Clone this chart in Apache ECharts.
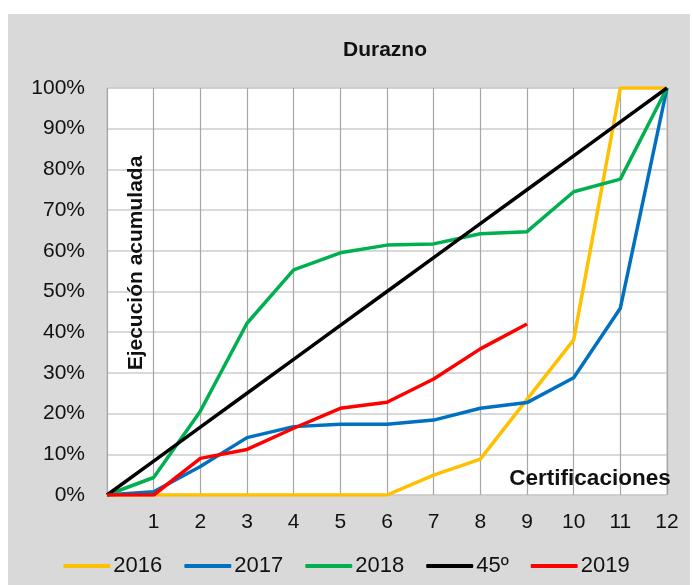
<!DOCTYPE html>
<html>
<head>
<meta charset="utf-8">
<script src="https://cdn.jsdelivr.net/npm/echarts@6/dist/echarts.min.js"></script>
<style>
  html, body { margin: 0; padding: 0; background: #ffffff; }
  #main { width: 693px; height: 585px; }
</style>
</head>
<body>
<div id="main"></div>
<script>
// certificaciones 0..12
var categories = ['0', '1', '2', '3', '4', '5', '6', '7', '8', '9', '10', '11', '12'];

// ejecucion acumulada (%)
var serie2016 = [0, 0, 0, 0, 0, 0, 0, 4.9, 8.8, 23.5, 38.1, 100, 100];
var serie2017 = [0, 0.8, 7, 14.1, 16.8, 17.4, 17.4, 18.4, 21.3, 22.7, 28.8, 45.9, 100];
var serie2018 = [0, 4.3, 20.6, 42.2, 55.3, 59.5, 61.4, 61.7, 64.2, 64.7, 74.5, 77.6, 100];
var serie45 = [0, 8.33, 16.67, 25, 33.33, 41.67, 50, 58.33, 66.67, 75, 83.33, 91.67, 100];
var serie2019 = [0, 0, 9, 11.2, 16.4, 21.3, 22.8, 28.5, 35.9, 42];

var names = ['2016', '2017', '2018', '45º', '2019'];
var colors = ['#FFC000', '#0070C0', '#00B050', '#000000', '#FF0000'];

var chart = echarts.init(document.getElementById('main'));

var fontFam = '"Liberation Sans", Arial, sans-serif';

function lineSeries(name, data, color) {
  return {
    name: name,
    type: 'line',
    data: data,
    symbol: 'none',
    smooth: false,
    lineStyle: { color: color, width: 3.5 },
    itemStyle: { color: color },
    emphasis: { disabled: true }
  };
}

var option = {
  backgroundColor: '#ffffff',
  animation: false,
  color: colors,
  grid: {
    left: 107, right: 26, top: 88, bottom: 90,
    show: true, backgroundColor: '#ffffff', borderColor: '#bfbfbf', borderWidth: 1
  },
  legend: {
    bottom: 3,
    left: 'center',
    itemWidth: 47,
    itemHeight: 4,
    itemGap: 22,
    icon: 'roundRect',
    textStyle: { fontSize: 22, color: '#111', fontFamily: fontFam, padding: [0, 0, 0, -2] },
    data: names
  },
  xAxis: {
    type: 'category',
    data: categories,
    boundaryGap: false,
    axisLine: { show: false },
    axisTick: { show: false },
    axisLabel: {
      fontSize: 21, color: '#111', fontFamily: fontFam, margin: 17,
      formatter: function (v) { return v === '0' ? '' : v; }
    },
    splitLine: { show: true, lineStyle: { color: '#a6a6a6', width: 1.2 } }
  },
  yAxis: {
    type: 'value',
    min: 0, max: 100, interval: 10,
    axisLine: { show: false },
    axisTick: { show: false },
    axisLabel: { fontSize: 21, color: '#111', fontFamily: fontFam, margin: 22, formatter: '{value}%' },
    splitLine: { show: true, lineStyle: { color: '#cccccc', width: 1.5 } }
  },
  graphic: [
    {
      type: 'rect', z: -10, silent: true,
      shape: { x: 8, y: 14, width: 682, height: 571 },
      style: { fill: '#d9d9d9' }
    },
    {
      type: 'text', z: 100, silent: true,
      x: 385, y: 50,
      style: { text: 'Durazno', font: 'bold 21px ' + fontFam, fill: '#111', textAlign: 'center', textVerticalAlign: 'middle' }
    },
    {
      type: 'text', z: 100, silent: true,
      x: 136, y: 263, rotation: Math.PI / 2,
      style: { text: 'Ejecución acumulada', font: 'bold 21px ' + fontFam, fill: '#111', textAlign: 'center', textVerticalAlign: 'middle' }
    },
    {
      type: 'text', z: 100, silent: true,
      x: 590, y: 479,
      style: { text: 'Certificaciones', font: 'bold 22.5px ' + fontFam, fill: '#111', textAlign: 'center', textVerticalAlign: 'middle' }
    }
  ],
  series: [
    lineSeries(names[0], serie2016, colors[0]),
    lineSeries(names[1], serie2017, colors[1]),
    lineSeries(names[2], serie2018, colors[2]),
    lineSeries(names[3], serie45, colors[3]),
    lineSeries(names[4], serie2019, colors[4])
  ]
};

chart.setOption(option);
</script>
</body>
</html>
